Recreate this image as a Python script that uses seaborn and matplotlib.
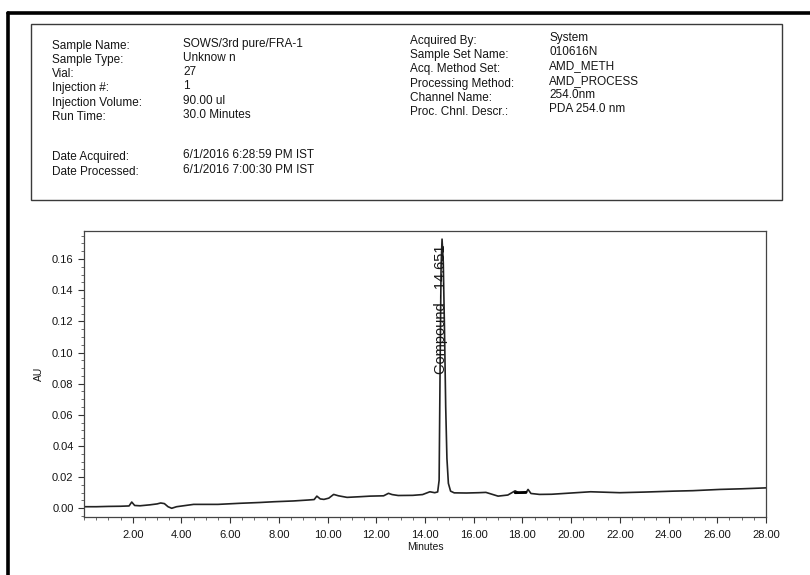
import matplotlib
matplotlib.use("Agg")
import matplotlib.pyplot as plt
import seaborn as sns
import pandas as pd
from matplotlib.patches import Rectangle
from matplotlib.lines import Line2D
from matplotlib.ticker import MultipleLocator

# ---------------- data ----------------
times = [0.0, 0.5, 1.0, 1.5, 1.85, 1.96, 2.08, 2.3, 2.7, 3.0, 3.15, 3.3, 3.45, 3.6, 3.8,
         4.5, 5.5, 6.4, 7.2, 7.8, 8.6, 9.2, 9.45, 9.56, 9.7, 9.85, 10.05, 10.25, 10.45,
         10.8, 11.3, 11.75, 12.3, 12.5, 12.65, 12.9, 13.5, 13.9, 14.2, 14.4, 14.52,
         14.58, 14.62, 14.66, 14.70, 14.75, 14.80, 14.85, 14.90, 14.96, 15.05, 15.2,
         15.7, 16.2, 16.5, 17.0, 17.4, 17.7, 17.85, 18.0, 18.15, 18.23, 18.35, 18.7,
         19.2, 19.8, 20.8, 22.0, 23.0, 24.2, 25.0, 26.1, 27.0, 28.0]
au = [0.0010, 0.0010, 0.0012, 0.0013, 0.0015, 0.0040, 0.0018, 0.0016, 0.0022, 0.0028,
      0.0034, 0.0030, 0.0010, 0.0000, 0.0010, 0.0025, 0.0025, 0.0032, 0.0037, 0.0042,
      0.0047, 0.0053, 0.0056, 0.0078, 0.0060, 0.0057, 0.0065, 0.0089, 0.0080, 0.0070,
      0.0074, 0.0078, 0.0080, 0.0096, 0.0088, 0.0082, 0.0083, 0.0088, 0.0106, 0.0100,
      0.0105, 0.0180, 0.0900, 0.1550, 0.1728, 0.1580, 0.1150, 0.0650, 0.0320, 0.0160,
      0.0110, 0.0099, 0.0098, 0.0100, 0.0102, 0.0078, 0.0085, 0.0112, 0.0099, 0.0099,
      0.0100, 0.0121, 0.0095, 0.0089, 0.0090, 0.0096, 0.0106, 0.0100, 0.0104, 0.0110,
      0.0113, 0.0121, 0.0125, 0.0131]

# integration baseline marker near 18 min
mark_times = [17.7, 18.15]
mark_au = [0.0100, 0.0102]

peak_label = "Compound - 14.651"
peak_time = 14.651
peak_label_au = 0.086

x_ticks = [2, 4, 6, 8, 10, 12, 14, 16, 18, 20, 22, 24, 26, 28]
y_ticks = [0.00, 0.02, 0.04, 0.06, 0.08, 0.10, 0.12, 0.14, 0.16]

header_left = [("Sample Name:", "SOWS/3rd pure/FRA-1"),
               ("Sample Type:", "Unknow n"),
               ("Vial:", "27"),
               ("Injection #:", "1"),
               ("Injection Volume:", "90.00 ul"),
               ("Run Time:", "30.0 Minutes")]
header_dates = [("Date Acquired:", "6/1/2016 6:28:59 PM IST"),
                ("Date Processed:", "6/1/2016 7:00:30 PM IST")]
header_right = [("Acquired By:", "System"),
                ("Sample Set Name:", "010616N"),
                ("Acq. Method Set:", "AMD_METH"),
                ("Processing Method:", "AMD_PROCESS"),
                ("Channel Name:", "254.0nm"),
                ("Proc. Chnl. Descr.:", "PDA 254.0 nm")]

# ---------------- style ----------------
sns.set_style("ticks")
plt.rcParams["font.family"] = ["Liberation Sans", "DejaVu Sans"]
TXT = "#151515"

W, H = 810, 575
fig = plt.figure(figsize=(W / 100, H / 100), dpi=100)
fig.patch.set_facecolor("white")


def fx(x):
    return x / W


def fy(y):
    return 1 - y / H


# outer scan frame
fig.add_artist(Line2D([fx(8), 1.0], [fy(13), fy(13)], color="black", lw=2.6))
fig.add_artist(Line2D([fx(8), fx(8)], [fy(13), 0.0], color="black", lw=2.6))

# header box
fig.add_artist(Rectangle((fx(31), fy(200)), fx(782) - fx(31), fy(24) - fy(200),
                         fill=False, edgecolor="#3a3a3a", lw=1.0))

fs = 8.5
ys_left = [46, 60, 74, 88, 103, 117]
for (lab, val), yy in zip(header_left, ys_left):
    fig.text(fx(52), fy(yy), lab, fontsize=fs, color=TXT, va="center", ha="left")
    fig.text(fx(183), fy(yy - 2), val, fontsize=fs, color=TXT, va="center", ha="left")
for (lab, val), yy in zip(header_dates, [157, 172]):
    fig.text(fx(52), fy(yy), lab, fontsize=fs, color=TXT, va="center", ha="left")
    fig.text(fx(183), fy(yy - 2), val, fontsize=fs, color=TXT, va="center", ha="left")
ys_right = [41, 55, 69, 84, 98, 112]
for (lab, val), yy in zip(header_right, ys_right):
    fig.text(fx(410), fy(yy), lab, fontsize=fs, color=TXT, va="center", ha="left")
    fig.text(fx(549), fy(yy - 3), val, fontsize=fs, color=TXT, va="center", ha="left")

# ---------------- chromatogram ----------------
ax = fig.add_axes([fx(84), fy(517), fx(766) - fx(84), fy(231) - fy(517)])
df = pd.DataFrame({"Minutes": times, "AU": au})
sns.lineplot(data=df, x="Minutes", y="AU", ax=ax, color="#222222", linewidth=1.2,
             estimator=None, sort=False)
dm = pd.DataFrame({"Minutes": mark_times, "AU": mark_au})
sns.lineplot(data=dm, x="Minutes", y="AU", ax=ax, color="black", linewidth=2.0,
             estimator=None, sort=False)

ax.text(peak_time + 0.02, peak_label_au, peak_label, rotation=90, ha="center", va="bottom",
        fontsize=10.5, color=TXT)

ax.set_xlim(0, 28)
ax.set_ylim(-0.0056, 0.178)
ax.set_xticks(x_ticks)
ax.set_xticklabels([f"{v:.2f}" for v in x_ticks])
ax.set_yticks(y_ticks)
ax.set_yticklabels([f"{v:.2f}" for v in y_ticks])
ax.xaxis.set_minor_locator(MultipleLocator(0.5))
ax.yaxis.set_minor_locator(MultipleLocator(0.005))
ax.tick_params(axis="both", which="major", labelsize=8, length=4, width=0.8,
               colors="#333333", labelcolor=TXT)
ax.tick_params(axis="both", which="minor", length=2, width=0.6, colors="#555555")
ax.tick_params(axis="x", pad=5)
ax.set_xlabel("Minutes", fontsize=7.5, color=TXT, labelpad=2)
ax.set_ylabel("AU", fontsize=7.5, color=TXT, labelpad=6)
for s in ax.spines.values():
    s.set_visible(True)
    s.set_color("#444444")
    s.set_linewidth(0.9)

fig.savefig("out.png", dpi=100, facecolor="white")
